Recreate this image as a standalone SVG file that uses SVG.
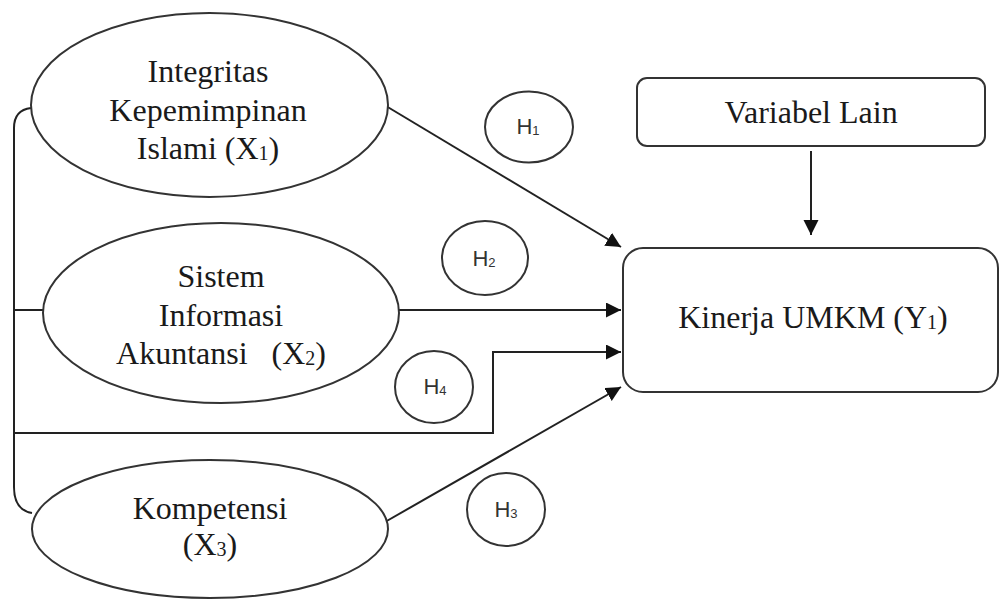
<svg xmlns="http://www.w3.org/2000/svg" width="999" height="599" viewBox="0 0 999 599">
<style>
  .node { fill: #ffffff; stroke: #333333; stroke-width: 2; }
  .lbl { font-family: "Liberation Serif", "Times New Roman", serif; font-size: 32px; fill: #1a1a1a; text-anchor: middle; }
  .h { font-family: "Liberation Sans", Arial, sans-serif; font-size: 22px; fill: #333333; text-anchor: middle; }
  .conn { fill: none; stroke: #222222; stroke-width: 2; }
</style>
<defs>
  <marker id="arr" markerUnits="userSpaceOnUse" markerWidth="16" markerHeight="16" refX="15" refY="7.5" orient="auto">
    <path d="M0,0 L15,7.5 L0,15 z" fill="#111111"/>
  </marker>
</defs>
<rect width="999" height="599" fill="#ffffff"/>

<g id="connectors">
  <path class="conn" d="M31,108 Q14,110 14,128 L14,487 Q14,510 32,513"/>
  <path class="conn" d="M14,310 L43,310"/>
  <path class="conn" d="M14,433 L493,433 L493,352 L621,352" marker-end="url(#arr)"/>
  <path class="conn" d="M386,106 L621,247" marker-end="url(#arr)"/>
  <path class="conn" d="M399,310 L621,310" marker-end="url(#arr)"/>
  <path class="conn" d="M385,522 L621,387" marker-end="url(#arr)"/>
  <path class="conn" d="M811,151 L811,235" marker-end="url(#arr)"/>
</g>

<g id="x1">
  <ellipse class="node" cx="209.5" cy="105" rx="178.5" ry="92"/>
  <text class="lbl" x="208" y="82">Integritas</text>
  <text class="lbl" x="208" y="121">Kepemimpinan</text>
  <text class="lbl" x="208" y="159">Islami (X<tspan font-size="20" dy="1">1</tspan><tspan dy="-1">)</tspan></text>
</g>

<g id="x2">
  <ellipse class="node" cx="221" cy="313" rx="178" ry="90"/>
  <text class="lbl" x="221" y="287">Sistem</text>
  <text class="lbl" x="221" y="326">Informasi</text>
  <text class="lbl" x="221" y="364" xml:space="preserve">Akuntansi   (X<tspan font-size="20" dy="1">2</tspan><tspan dy="-1">)</tspan></text>
</g>

<g id="x3">
  <ellipse class="node" cx="210" cy="529" rx="178" ry="69"/>
  <text class="lbl" x="210" y="519">Kompetensi</text>
  <text class="lbl" x="210" y="555">(X<tspan font-size="20" dy="1">3</tspan><tspan dy="-1">)</tspan></text>
</g>

<g id="variabel-lain">
  <rect class="node" x="637" y="78" width="348" height="68" rx="10" ry="10"/>
  <text class="lbl" x="811" y="123">Variabel Lain</text>
</g>

<g id="kinerja">
  <rect class="node" x="623" y="248" width="375" height="144" rx="20" ry="20"/>
  <text class="lbl" x="813" y="328">Kinerja UMKM (Y<tspan font-size="20" dy="1">1</tspan><tspan dy="-1">)</tspan></text>
</g>

<g id="h1">
  <ellipse class="node" cx="529" cy="127" rx="44" ry="35.5"/>
  <text class="h" x="528" y="134">H<tspan font-size="13" dy="1">1</tspan></text>
</g>
<g id="h2">
  <ellipse class="node" cx="485" cy="258" rx="43" ry="37"/>
  <text class="h" x="484" y="266">H<tspan font-size="13" dy="1">2</tspan></text>
</g>
<g id="h4">
  <ellipse class="node" cx="434" cy="387" rx="39" ry="36"/>
  <text class="h" x="435" y="394">H<tspan font-size="13" dy="1">4</tspan></text>
</g>
<g id="h3">
  <ellipse class="node" cx="506" cy="509.5" rx="39" ry="36.5"/>
  <text class="h" x="506" y="517">H<tspan font-size="13" dy="1">3</tspan></text>
</g>
</svg>
